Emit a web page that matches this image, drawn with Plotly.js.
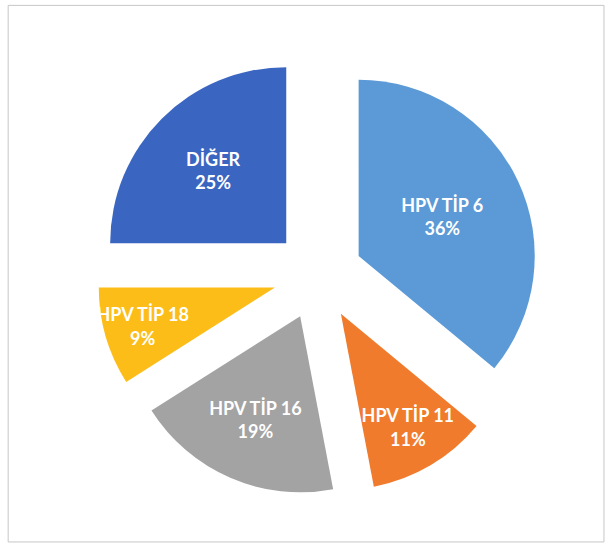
<!DOCTYPE html>
<html>
<head>
<meta charset="utf-8">
<script src="https://cdn.plot.ly/plotly-3.0.1.min.js"></script>
<style>html,body{margin:0;padding:0;background:#fff;}</style>
</head>
<body>
<div id="chart" style="width:613px;height:549px;"></div>
<script>
var labels = ["HPV TİP 6", "HPV TİP 11", "HPV TİP 16", "HPV TİP 18", "DİĞER"];
var values = [36, 11, 19, 9, 25];
var colors = ["#5b9ad6", "#f07b2c", "#a3a3a3", "#fdbd18", "#3a66c2"];

var trace = {
  type: "pie",
  labels: labels,
  values: values,
  sort: false,
  direction: "clockwise",
  rotation: 0,
  pull: [0.255, 0.255, 0.255, 0.255, 0.255],
  marker: {colors: colors, line: {width: 0}},
  texttemplate: "<b>%{label}</b><br><b>%{percent:.0%}</b>",
  textposition: "inside",
  insidetextorientation: "horizontal",
  textfont: {family: "Lato, 'Open Sans', sans-serif", size: 18, color: "#ffffff"},
  hoverinfo: "label+percent",
  showlegend: false
};

var layout = {
  width: 613,
  height: 549,
  margin: {l: 97, r: 74, t: 54, b: 53},
  paper_bgcolor: "#ffffff",
  showlegend: false,
  uniformtext: {mode: "show", minsize: 18},
  shapes: [{
    type: "rect", xref: "paper", yref: "paper",
    x0: -0.201, x1: 1.147, y0: -0.104, y1: 1.110,
    line: {color: "#c6c6c6", width: 1}
  }]
};

Plotly.newPlot("chart", [trace], layout, {displayModeBar: false, staticPlot: true});
</script>
</body>
</html>
